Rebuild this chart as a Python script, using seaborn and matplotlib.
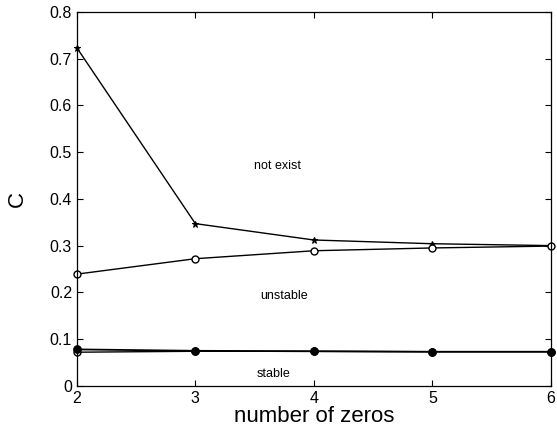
import matplotlib
matplotlib.use("Agg")
import matplotlib.pyplot as plt
import seaborn as sns
import pandas as pd

zeros = [2, 3, 4, 5, 6]
c_exist = [0.723, 0.347, 0.312, 0.304, 0.300]
c_unstable = [0.239, 0.272, 0.289, 0.295, 0.299]
c_stable = [0.078, 0.075, 0.074, 0.073, 0.073]
c_stable_low = [0.072, 0.074, 0.074, 0.073, 0.073]
region_labels = ["not exist", "unstable", "stable"]
region_x = [3.69, 3.75, 3.66]
region_y = [0.47, 0.193, 0.026]

sns.set_theme(style="ticks")
plt.rcParams['font.family'] = ['Liberation Sans', 'DejaVu Sans']

fig = plt.figure(figsize=(5.57, 4.38), dpi=100)
ax = fig.add_axes([0.138, 0.119, 0.851, 0.854])

df = pd.DataFrame({"x": zeros, "exist": c_exist, "unstable": c_unstable,
                   "stable": c_stable, "stable_low": c_stable_low})

sns.lineplot(data=df, x="x", y="stable_low", ax=ax, color="black", lw=1.0,
             marker="o", markersize=5, markerfacecolor="white",
             markeredgecolor="black", markeredgewidth=1.0, clip_on=False)
sns.lineplot(data=df, x="x", y="exist", ax=ax, color="black", lw=1.0,
             marker="*", markersize=5, markeredgecolor="black", clip_on=False)
sns.lineplot(data=df, x="x", y="unstable", ax=ax, color="black", lw=1.0,
             marker="o", markersize=5, markerfacecolor="white",
             markeredgecolor="black", markeredgewidth=1.0, clip_on=False)
sns.lineplot(data=df, x="x", y="stable", ax=ax, color="black", lw=1.3,
             marker="o", markersize=5.5, markerfacecolor="black",
             markeredgecolor="black", clip_on=False)

for lab, xx, yy in zip(region_labels, region_x, region_y):
    ax.text(xx, yy, lab, ha="center", va="center", fontsize=9, color="black")

ax.set_xlim(2, 6)
ax.set_ylim(0, 0.8)
ax.set_xticks([2, 3, 4, 5, 6])
ax.set_yticks([0, 0.1, 0.2, 0.3, 0.4, 0.5, 0.6, 0.7, 0.8])
ax.set_yticklabels(["0", "0.1", "0.2", "0.3", "0.4", "0.5", "0.6", "0.7", "0.8"])
ax.tick_params(direction="in", top=True, right=True, labelsize=11.5, length=4,
               color="black", labelcolor="black", width=0.8)
for s in ax.spines.values():
    s.set_visible(True)
    s.set_color("black")
    s.set_linewidth(0.9)
ax.set_xlabel("number of zeros", fontsize=16, color="black", labelpad=0)
ax.set_ylabel("C", fontsize=16, color="black", labelpad=16)

fig.savefig("out.png", dpi=100)
